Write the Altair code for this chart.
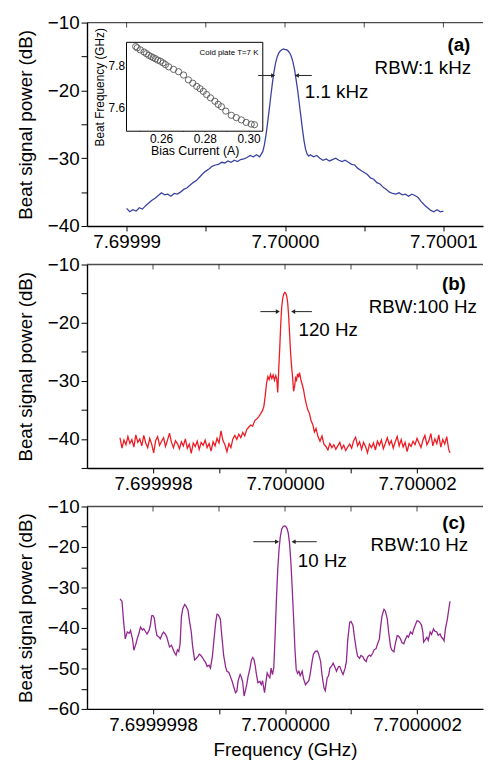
import altair as alt
import pandas as pd

FONT = "Liberation Sans"
W = 401
HA, HB, HC = 206, 206, 205

# ---------------- Panel (a): RBW 1 kHz, offset in kHz from 7.7 GHz ----------------
A_OFF = [-10.0, -9.8, -9.6, -9.4, -9.2, -9.0, -8.8, -8.6, -8.4, -8.2, -8.0, -7.8, -7.6, -7.4, -7.2,
         -7.0, -6.8, -6.6, -6.4, -6.2, -6.0, -5.8, -5.6, -5.4, -5.2, -5.0, -4.8, -4.6, -4.4, -4.2,
         -4.0, -3.8, -3.6, -3.4, -3.2, -3.0, -2.8, -2.6, -2.4, -2.2, -2.0, -1.8, -1.6, -1.5, -1.4,
         -1.3, -1.2, -1.1, -1.0, -0.9, -0.8, -0.7, -0.6, -0.5, -0.4, -0.3, -0.2, -0.1, 0.0, 0.1,
         0.2, 0.3, 0.4, 0.5, 0.6, 0.7, 0.8, 0.9, 1.0, 1.1, 1.2, 1.3, 1.4, 1.5, 1.6, 1.8, 2.0, 2.2,
         2.4, 2.6, 2.8, 3.0, 3.2, 3.4, 3.6, 3.8, 4.0, 4.2, 4.4, 4.6, 4.8, 5.0, 5.2, 5.4, 5.6, 5.8,
         6.0, 6.2, 6.4, 6.6, 6.8, 7.0, 7.2, 7.4, 7.6, 7.8, 8.0, 8.2, 8.4, 8.6, 8.8, 9.0, 9.2, 9.4,
         9.6, 9.8, 10.0]
A_DB = [-37.4, -37.9, -37.6, -37.8, -37.3, -37.5, -37.0, -36.6, -36.2, -35.9, -35.5, -35.1, -35.4,
        -35.3, -35.6, -35.2, -35.3, -35.0, -34.6, -34.4, -34.0, -33.6, -33.3, -32.8, -32.3, -31.9,
        -31.6, -31.2, -31.0, -30.9, -30.6, -30.7, -30.4, -30.6, -30.3, -30.5, -30.2, -30.1, -29.9,
        -29.6, -29.8, -29.5, -29.8, -29.4, -29.0, -28.0, -26.6, -24.8, -22.9, -20.9, -19.0, -17.3,
        -16.0, -15.1, -14.5, -14.2, -14.0, -13.9, -14.0, -14.0, -14.2, -14.5, -15.0, -15.8, -16.9,
        -18.4, -20.0, -21.9, -23.8, -25.7, -27.4, -28.7, -29.4, -29.7, -29.5, -29.8, -29.6, -30.0,
        -30.3, -30.1, -30.4, -30.2, -30.0, -30.3, -30.5, -30.3, -30.6, -30.9, -31.0, -31.5, -31.8,
        -32.1, -32.4, -32.9, -33.1, -33.6, -33.8, -34.3, -34.6, -35.0, -35.2, -35.3, -35.1, -35.4,
        -35.3, -35.6, -35.3, -35.5, -35.8, -36.4, -36.9, -37.3, -37.7, -37.9, -37.6, -37.9, -37.8]

# inset: beat frequency vs bias current
INSET_I = [0.2484, 0.2491, 0.2505, 0.2522, 0.2533, 0.2544, 0.2555, 0.2564, 0.2574, 0.2585, 0.2597,
           0.2609, 0.2620, 0.2635, 0.2657, 0.2680, 0.2703, 0.2725, 0.2745, 0.2763, 0.2778, 0.2793,
           0.2808, 0.2826, 0.2846, 0.2861, 0.2876, 0.2896, 0.2921, 0.2944, 0.2967, 0.2989, 0.3012,
           0.3027]
INSET_F = [7.892, 7.886, 7.876, 7.866, 7.858, 7.850, 7.844, 7.839, 7.834, 7.827, 7.822, 7.814, 7.806,
           7.795, 7.783, 7.772, 7.756, 7.733, 7.717, 7.702, 7.691, 7.678, 7.663, 7.647, 7.631, 7.616,
           7.605, 7.584, 7.564, 7.553, 7.542, 7.530, 7.522, 7.519]
INSET_XDOM = [0.2442, 0.3065]
INSET_YDOM = [7.488, 7.912]

# ---------------- Panel (b): RBW 100 Hz, offset in Hz ----------------
B_OFF = [-2500, -2470, -2440, -2410, -2380, -2350, -2320, -2290, -2260, -2230, -2200, -2170, -2140,
         -2110, -2080, -2050, -2020, -1990, -1960, -1930, -1900, -1870, -1840, -1810, -1780, -1750,
         -1720, -1690, -1660, -1630, -1600, -1570, -1540, -1510, -1480, -1450, -1420, -1390, -1360,
         -1330, -1300, -1270, -1240, -1210, -1180, -1150, -1120, -1090, -1060, -1030, -1000, -970,
         -940, -910, -880, -850, -820, -790, -760, -730, -700, -670, -640, -610, -580, -550, -520,
         -490, -460, -430, -400, -370, -340, -320, -300, -280, -260, -240, -220, -200, -180, -160,
         -140, -125, -110, -95, -80, -65, -50, -35, -20, -5, 10, 25, 40, 55, 70, 85, 100, 115, 130,
         145, 160, 175, 190, 205, 220, 240, 260, 280, 300, 320, 345, 370, 395, 420, 445, 470, 500,
         530, 560, 590, 620, 650, 680, 710, 740, 770, 800, 830, 860, 890, 920, 950, 980, 1010, 1040,
         1070, 1100, 1130, 1160, 1190, 1220, 1250, 1280, 1310, 1340, 1370, 1400, 1430, 1460, 1490,
         1520, 1550, 1580, 1610, 1640, 1670, 1700, 1730, 1760, 1790, 1820, 1850, 1880, 1910, 1940,
         1970, 2000, 2030, 2060, 2090, 2120, 2150, 2180, 2210, 2240, 2270, 2300, 2330, 2360, 2390,
         2420, 2450, 2480, 2500]
B_DB = [-39.8, -41.6, -40.2, -41.0, -39.6, -40.8, -40.1, -41.4, -39.3, -40.6, -40.0, -41.2, -39.4,
        -40.7, -41.5, -39.9, -40.9, -42.4, -40.3, -39.6, -41.1, -40.4, -39.8, -41.3, -40.2, -39.0,
        -40.6, -41.5, -40.3, -40.8, -41.7, -40.5, -41.2, -40.0, -41.6, -40.9, -42.5, -40.7, -41.3,
        -40.4, -41.8, -40.6, -41.1, -40.2, -41.5, -40.8, -42.1, -40.5, -41.2, -39.9, -40.7, -38.6,
        -40.3, -41.0, -42.2, -40.8, -41.5, -40.0, -39.4, -40.1, -39.2, -39.8, -38.9, -39.5, -38.4,
        -38.0, -37.6, -37.8, -36.9, -36.6, -36.2, -35.7, -35.1, -34.4, -32.6, -30.5, -29.3, -29.8,
        -28.9, -29.6, -29.0, -29.9, -29.1, -29.7, -32.0, -28.0, -24.5, -20.3, -17.3, -15.8, -15.1,
        -14.8, -14.9, -15.4, -16.5, -18.8, -22.0, -25.3, -27.6, -29.4, -31.8, -31.0, -29.5, -29.9,
        -28.8, -29.4, -28.6, -29.8, -30.6, -31.5, -32.8, -33.9, -35.0, -35.6, -36.9, -37.5, -38.8,
        -38.2, -39.6, -40.4, -39.5, -40.9, -41.3, -41.9, -40.8, -41.5, -41.0, -41.8, -41.2, -40.6,
        -41.7, -41.1, -42.0, -41.4, -40.9, -41.6, -40.3, -39.7, -41.2, -40.5, -41.8, -40.6, -41.3,
        -42.4, -40.9, -41.5, -40.7, -41.9, -40.4, -41.1, -40.2, -41.7, -40.8, -39.8, -41.0, -40.3,
        -41.6, -40.5, -39.6, -41.2, -40.1, -41.4, -40.6, -42.2, -40.8, -41.3, -40.4, -41.0, -39.9,
        -40.7, -41.5, -40.2, -39.4, -41.0, -40.3, -39.1, -41.2, -40.0, -40.8, -39.3, -41.4, -40.1,
        -40.9, -39.6, -41.8, -42.4]

# ---------------- Panel (c): RBW 10 Hz, offset in Hz ----------------
C_OFF = [-250, -247, -245, -242, -239, -236, -234, -231, -229, -226, -224, -221, -219, -216, -214,
         -211, -209, -206, -204, -202, -200, -198, -196, -194, -191, -189, -186, -184, -181, -179,
         -177, -175, -172, -170, -168, -165, -163, -161, -159, -157, -155, -152, -150, -147, -145,
         -142, -140, -137, -135, -132, -130, -128, -125, -123, -120, -118, -115, -113, -110, -108,
         -105, -103, -101, -98, -96, -93, -90, -88, -85, -83, -80, -78, -75, -73, -71, -68, -66,
         -64, -62, -60, -58, -56, -53, -51, -49, -47, -45, -43, -41, -38, -36, -34, -31, -29, -27,
         -25, -23, -21, -19, -17, -15, -13, -11, -9, -7, -5, -3, -1, 1, 3, 5, 7, 9, 11, 13, 15, 17,
         19, 21, 23, 26, 28, 31, 33, 36, 38, 41, 43, 46, 49, 51, 54, 56, 59, 61, 64, 66, 68, 71, 73,
         76, 78, 81, 83, 86, 88, 91, 93, 95, 98, 100, 103, 105, 108, 110, 113, 115, 118, 120, 123,
         125, 128, 130, 133, 135, 138, 140, 143, 145, 147, 150, 152, 155, 157, 160, 162, 165, 167,
         170, 172, 175, 177, 180, 182, 185, 187, 190, 193, 195, 198, 200, 202, 205, 207, 209, 210,
         212, 215, 217, 220, 222, 225, 227, 230, 232, 235, 237, 239, 241, 243, 246, 248, 250]
C_DB = [-32.8, -33.4, -37.5, -42.7, -41.0, -41.3, -40.6, -42.8, -45.5, -44.0, -42.7, -41.2, -39.8,
        -40.5, -40.2, -41.0, -41.5, -40.6, -39.4, -37.0, -36.9, -37.6, -40.2, -41.9, -42.2, -42.7,
        -41.5, -41.0, -41.6, -42.3, -43.5, -44.7, -44.3, -45.1, -45.9, -46.7, -45.4, -45.8, -44.0,
        -37.4, -35.3, -34.2, -34.6, -35.6, -38.0, -41.0, -44.5, -47.9, -47.6, -47.1, -46.5, -46.7,
        -47.3, -47.9, -48.6, -49.5, -49.2, -49.9, -47.0, -43.5, -38.6, -36.6, -36.8, -37.8, -41.5,
        -46.7, -49.6, -50.7, -51.0, -51.9, -53.2, -54.4, -56.0, -55.6, -53.0, -51.5, -52.2, -53.5,
        -56.8, -55.5, -54.0, -52.0, -49.9, -48.0, -47.3, -47.8, -49.5, -51.8, -53.5, -53.2, -54.0,
        -53.0, -56.0, -53.5, -51.1, -51.8, -52.3, -49.9, -51.5, -49.9, -41.9, -33.0, -25.5, -20.5,
        -17.3, -15.6, -15.0, -14.8, -14.9, -15.4, -16.6, -19.3, -24.0, -30.5, -37.5, -45.0, -50.3,
        -51.2, -50.7, -51.8, -50.7, -52.5, -54.0, -53.6, -53.1, -51.5, -48.3, -46.5, -45.8, -45.7,
        -46.4, -48.3, -51.5, -54.8, -55.5, -52.3, -51.8, -49.9, -49.3, -48.7, -49.8, -50.7, -49.6,
        -49.5, -50.8, -51.5, -50.0, -48.3, -43.0, -38.6, -38.4, -39.4, -42.0, -45.3, -47.0, -47.5,
        -46.8, -47.1, -47.8, -48.3, -47.2, -46.7, -47.0, -46.2, -45.4, -45.1, -44.0, -42.7, -39.5,
        -37.0, -35.4, -35.8, -37.8, -41.0, -44.7, -45.5, -45.9, -44.0, -41.9, -42.0, -42.7, -43.6,
        -43.9, -43.0, -41.9, -42.3, -41.0, -41.5, -40.3, -39.0, -38.2, -38.3, -38.8, -39.4, -41.2,
        -43.5, -43.0, -42.3, -43.1, -41.0, -41.6, -40.2, -40.8, -41.0, -41.8, -41.5, -42.3, -42.6,
        -43.2, -40.2, -37.8, -35.5, -33.4]

# annotations: arrows (start, tip, level), texts
A_ARROWS = {"f": [-1.69, 1.69], "f2": [-0.75, 0.75], "p": [-17.8, -17.8]}
B_ARROWS = {"f": [-373, 408], "f2": [-109, 124], "p": [-18.1, -18.1]}
C_ARROWS = {"f": [-48, 48], "f2": [-12, 13], "p": [-18.7, -18.7]}

A_TXT = [("1.1 kHz", 1.25, -20.3), ("RBW:1 kHz", 11.75, -16.7), ("(a)", 11.7, -13.3)]
B_TXT = [("120 Hz", 204, -21.3), ("RBW:100 Hz", 2906, -17.3), ("(b)", 2740, -13.4)]
C_TXT = [("10 Hz", 19.4, -23.6), ("RBW:10 Hz", 277.6, -19.6), ("(c)", 273, -14.2)]

YTITLE = "Beat signal power (dB)"
LW = 1.4  # frame line width


def panel(H, off, db, color, xdom, xvals, xmaj, mult, fmt, ydom, yvals, arrows, txt, xtitle):
    xs = alt.Scale(domain=xdom, nice=False, zero=False)
    ys = alt.Scale(domain=ydom, nice=False, zero=False)
    xaxis = alt.Axis(
        orient="bottom", values=xvals, tickCount=50, tickSize=5, labelPadding=2, labelOverlap=False,
        domain=True, domainColor="black", domainWidth=LW,
        labelExpr=f"abs(datum.value) % {xmaj} == 0 ? format(7.7 + datum.value * {mult}, '{fmt}') : ''",
        title=xtitle if xtitle else None, titlePadding=6,
    )
    yaxis = alt.Axis(
        orient="left", values=yvals, tickCount=50, tickSize=6, labelPadding=2, labelOverlap=False,
        domain=True, domainColor="black", domainWidth=LW,
        labelExpr="datum.value % 10 == 0 ? format(datum.value, 'd') : ''",
        title=YTITLE, titlePadding=12,
    )
    df = pd.DataFrame({"f": off, "p": db})
    line = alt.Chart(df).mark_line(color=color, strokeWidth=1.3).encode(
        x=alt.X("f:Q", scale=xs, axis=xaxis), y=alt.Y("p:Q", scale=ys, axis=yaxis)
    )
    # top edge of the frame and its inward ticks
    xmid = (xdom[0] + xdom[1]) / 2
    top_edge = alt.Chart(pd.DataFrame({"f": [xmid], "p": [ydom[1]]})).mark_tick(
        color="black", thickness=LW, size=W, orient="horizontal").encode(
        x=alt.X("f:Q", scale=xs), y=alt.Y("p:Q", scale=ys)
    )
    ticks_df = pd.DataFrame({"f": xvals, "p": [ydom[1]] * len(xvals)})
    top_ticks = alt.Chart(ticks_df).mark_tick(color="black", thickness=1, size=5, orient="vertical",
                                              yOffset=2.5).encode(
        x=alt.X("f:Q", scale=xs), y=alt.Y("p:Q", scale=ys)
    )
    adf = pd.DataFrame(arrows)
    arr = alt.Chart(adf).mark_rule(color="#222", strokeWidth=1).encode(
        x=alt.X("f:Q", scale=xs), x2="f2:Q", y=alt.Y("p:Q", scale=ys)
    )
    hl = alt.Chart(adf.iloc[[0]]).mark_point(shape="triangle-right", filled=True, color="#222",
                                              size=22, opacity=1).encode(
        x=alt.X("f2:Q", scale=xs), y=alt.Y("p:Q", scale=ys)
    )
    hr = alt.Chart(adf.iloc[[1]]).mark_point(shape="triangle-left", filled=True, color="#222",
                                              size=22, opacity=1).encode(
        x=alt.X("f2:Q", scale=xs), y=alt.Y("p:Q", scale=ys)
    )
    t = pd.DataFrame(txt, columns=["t", "f", "p"])
    t1 = alt.Chart(t.iloc[[0]]).mark_text(align="left", baseline="middle", fontSize=19,
                                          font=FONT, color="black").encode(
        x=alt.X("f:Q", scale=xs), y=alt.Y("p:Q", scale=ys), text="t:N")
    t2 = alt.Chart(t.iloc[[1]]).mark_text(align="right", baseline="middle", fontSize=19,
                                          font=FONT, color="black").encode(
        x=alt.X("f:Q", scale=xs), y=alt.Y("p:Q", scale=ys), text="t:N")
    t3 = alt.Chart(t.iloc[[2]]).mark_text(align="right", baseline="middle", fontSize=19,
                                          font=FONT, fontWeight="bold", color="black").encode(
        x=alt.X("f:Q", scale=xs), y=alt.Y("p:Q", scale=ys), text="t:N")
    return alt.layer(line, top_edge, top_ticks, arr, hl, hr, t1, t2, t3).properties(width=W, height=H)


pa_main = panel(HA, A_OFF, A_DB, "#3a43a3", [-12.5, 12.5], [-10, -5, 0, 5, 10], 10, "1e-06", ".5f",
                [-40, -10], [-40, -35, -30, -25, -20, -15, -10], A_ARROWS, A_TXT, None)
pb = panel(HB, B_OFF, B_DB, "#ed1c24", [-3000, 3000], [-2000, -1000, 0, 1000, 2000], 2000, "1e-09", ".6f",
           [-45, -10], [-45, -40, -35, -30, -25, -20, -15, -10], B_ARROWS, B_TXT, None)
pc = panel(HC, C_OFF, C_DB, "#92278f", [-300, 300], [-200, -100, 0, 100, 200], 200, "1e-09", ".7f",
           [-60, -10], [-60, -55, -50, -45, -40, -35, -30, -25, -20, -15, -10], C_ARROWS, C_TXT,
           "Frequency (GHz)")

# inset in panel (a): pixel ranges inside the panel's plot area
ixs = alt.Scale(domain=INSET_XDOM, range=[40, 178], nice=False, zero=False)
iys = alt.Scale(domain=INSET_YDOM, range=[110, 20], nice=False, zero=False)
frame_df = pd.DataFrame({"i": [INSET_XDOM[0]], "i2": [INSET_XDOM[1]],
                         "g": [INSET_YDOM[0]], "g2": [INSET_YDOM[1]]})
inset_frame = alt.Chart(frame_df).mark_rect(fill="white", stroke="black", strokeWidth=1).encode(
    x=alt.X("i:Q", scale=ixs, axis=alt.Axis(
        orient="bottom", offset=-(HA - 110), values=[0.25, 0.26, 0.27, 0.28, 0.29, 0.30],
        tickCount=50, labelExpr="round(datum.value * 100) % 2 == 0 ? format(datum.value, '.2f') : ''",
        labelOverlap=False, domain=False, tickSize={"expr": "-3"}, labelPadding=5, labelFontSize=12,
        title="Bias Current (A)", titleFontSize=12.5, titlePadding=1)),
    x2="i2:Q",
    y=alt.Y("g:Q", scale=iys, axis=alt.Axis(
        orient="left", offset=-40, values=[7.5, 7.6, 7.7, 7.8, 7.9], tickCount=50,
        labelExpr="round(datum.value * 10) % 2 == 0 ? format(datum.value, '.1f') : ''",
        labelOverlap=False, domain=False, tickSize={"expr": "-3"}, labelPadding=5, labelFontSize=12,
        title="Beat Frequency (GHz)", titleFontSize=12, titlePadding=2)),
    y2="g2:Q",
)
inset_pts = alt.Chart(pd.DataFrame({"i": INSET_I, "g": INSET_F})).mark_point(
    shape="circle", filled=False, stroke="#555", strokeWidth=0.9, size=40, opacity=1
).encode(x=alt.X("i:Q", scale=ixs), y=alt.Y("g:Q", scale=iys))
inset_txt = alt.Chart(pd.DataFrame({"i": [0.3045], "g": [7.86], "t": ["Cold plate T=7 K"]})).mark_text(
    align="right", baseline="middle", fontSize=8, font=FONT, color="black"
).encode(x=alt.X("i:Q", scale=ixs), y=alt.Y("g:Q", scale=iys), text="t:N")
inset = alt.layer(inset_frame, inset_pts, inset_txt)

pa = alt.layer(inset, pa_main).resolve_scale(x="independent", y="independent").properties(width=W, height=HA)

chart = alt.vconcat(pa, pb, pc, spacing=2).properties(
    padding={"left": 8, "top": 0, "right": 0, "bottom": 0}
).configure(font=FONT).configure_view(stroke="transparent").configure_axis(
    labelFont=FONT, titleFont=FONT, labelColor="black", titleColor="black",
    tickColor="black", grid=False, labelFontSize=19,
    titleFontSize=19, titleFontWeight="normal", tickWidth=1,
)

chart.save("out.html", embed_options={"renderer": "svg", "actions": False})
